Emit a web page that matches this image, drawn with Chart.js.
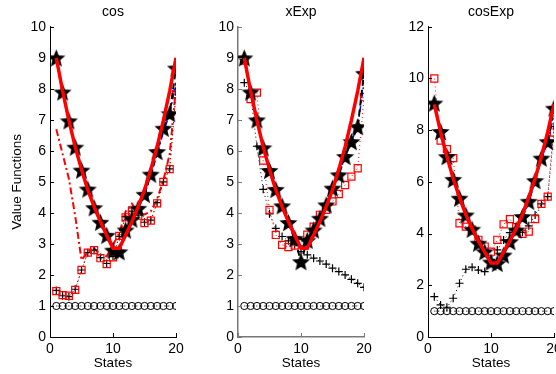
<!DOCTYPE html>
<html>
<head>
<meta charset="utf-8">
<script src="https://cdn.jsdelivr.net/npm/chart.js@4.4.0/dist/chart.umd.min.js"></script>
<style>
  html, body { margin: 0; padding: 0; background: #fff; overflow: hidden; }
  body { width: 556px; height: 374px; position: relative; }
  canvas { position: absolute; top: 0; }
</style>
</head>
<body>
<canvas id="c1" width="190" height="374" style="left:0px"></canvas>
<canvas id="c2" width="190" height="374" style="left:188px"></canvas>
<canvas id="c3" width="190" height="374" style="left:378px"></canvas>
<script>
// --- data ---
const states = [1, 2, 3, 4, 5, 6, 7, 8, 9, 10, 11, 12, 13, 14, 15, 16, 17, 18, 19, 20];
const trueValue = [9.0, 7.93, 6.98, 6.13, 5.4, 4.74, 4.2, 3.72, 3.28, 2.86, 2.86, 3.28, 3.72, 4.2, 4.74, 5.4, 6.13, 6.98, 7.93, 9.0];
const baseline = [1, 1, 1, 1, 1, 1, 1, 1, 1, 1, 1, 1, 1, 1, 1, 1, 1, 1, 1, 1];

// cos
const cosStars = [9.0, 7.9, 6.97, 6.12, 5.38, 4.77, 4.17, 3.7, 3.28, 2.8, 2.75, 3.45, 3.8, 4.15, 4.6, 5.25, 5.98, 6.73, 7.2, 8.67];
const cosBlue = [9.0, 7.9, 6.97, 6.1, 5.38, 4.77, 4.17, 3.7, 3.25, 2.85, 2.9, 3.3, 3.75, 4.2, 4.6, 5.2, 5.9, 6.6, 7.2, 8.2];
const cosSquares = [1.48, 1.35, 1.33, 1.52, 2.16, 2.72, 2.8, 2.54, 2.35, 2.57, 3.26, 3.86, 4.04, 3.91, 3.67, 3.75, 4.31, 5.0, 5.41, 7.83];
const cosPlus = [1.5, 1.33, 1.3, 1.54, 2.16, 2.72, 2.8, 2.56, 2.37, 2.6, 3.24, 3.88, 4.06, 3.93, 3.7, 3.77, 4.33, 5.0, 5.42, 7.9];
const cosDashDot = [6.7, 5.9, 5.1, 3.9, 2.48, 2.75, 2.86, 2.66, 2.6, 2.97, 3.35, 4.05, 4.3, 4.0, 3.95, 4.05, 4.45, 5.06, 5.9, 8.07];

// xExp
const xExpStars = [9.0, 7.9, 7.0, 6.1, 5.37, 4.76, 4.23, 3.69, 3.18, 2.43, 3.12, 3.45, 3.83, 4.26, 4.8, 5.23, 5.82, 6.3, 6.78, 8.5];
const xExpBlue = [9.0, 7.9, 7.0, 6.1, 5.37, 4.76, 4.23, 3.69, 3.1, 2.85, 3.12, 3.45, 3.83, 4.26, 4.8, 5.23, 5.82, 6.3, 6.8, 8.2];
const xExpSquares = [8.91, 7.67, 7.88, 5.69, 4.1, 3.29, 2.97, 2.9, 2.95, 3.05, 3.3, 3.56, 3.94, 4.1, 4.37, 4.61, 4.9, 5.17, 5.44, 7.73];
const xExpPlus = [8.2, 7.85, 6.15, 4.76, 3.97, 3.5, 3.24, 3.1, 2.97, 2.75, 2.65, 2.54, 2.45, 2.35, 2.22, 2.11, 2.0, 1.86, 1.73, 1.6];

// cosExp
const cosExpStars = [9.05, 7.95, 6.98, 6.1, 5.37, 4.72, 4.17, 3.63, 3.3, 2.9, 2.85, 3.17, 3.69, 4.14, 4.66, 5.25, 6.05, 6.92, 7.56, 8.85];
const cosExpBlue = [9.05, 7.95, 6.98, 6.1, 5.37, 4.72, 4.17, 3.63, 3.3, 2.9, 2.85, 3.17, 3.69, 4.14, 4.66, 5.25, 6.05, 6.92, 7.56, 8.6];
const cosExpSquares = [10.0, 7.6, 7.27, 6.92, 4.4, 4.27, 4.15, 3.76, 3.5, 3.3, 3.76, 4.36, 4.56, 4.25, 3.99, 4.08, 4.56, 5.15, 5.43, 7.91];
const cosExpPlus = [1.56, 1.24, 1.15, 1.5, 2.08, 2.62, 2.7, 2.59, 2.53, 3.0, 3.37, 3.75, 4.04, 4.14, 4.05, 4.3, 4.72, 5.15, 5.43, 8.14];

const FONT = 'Liberation Sans, Arial, Helvetica, sans-serif';

function toXY(vals) {
  return vals.map((v, i) => ({ x: states[i], y: v }));
}

// filled pentagram marker
function makeStar(size) {
  const c = document.createElement('canvas');
  c.width = c.height = size;
  const g = c.getContext('2d');
  const r = size / 2, ri = r * 0.44;
  g.beginPath();
  for (let i = 0; i < 10; i++) {
    const a = -Math.PI / 2 + i * Math.PI / 5;
    const rr = i % 2 ? ri : r;
    g.lineTo(r + rr * Math.cos(a), r + 1 + rr * Math.sin(a));
  }
  g.closePath();
  g.fillStyle = '#000';
  g.fill();
  return c;
}
const starImg = makeStar(19);

// MATLAB-like ticks pointing into the plot
const innerTicks = {
  id: 'innerTicks',
  afterDatasetsDraw(chart) {
    const { ctx, chartArea, scales } = chart;
    ctx.save();
    ctx.strokeStyle = chart.options.scales.x.border.color;
    ctx.lineWidth = 1;
    ctx.beginPath();
    scales.x.ticks.forEach(t => {
      const px = Math.round(scales.x.getPixelForValue(t.value)) + 0.5;
      ctx.moveTo(px, chartArea.bottom);
      ctx.lineTo(px, chartArea.bottom - 4);
    });
    scales.y.ticks.forEach(t => {
      const py = Math.round(scales.y.getPixelForValue(t.value)) + 0.5;
      ctx.moveTo(chartArea.left, py);
      ctx.lineTo(chartArea.left + 4, py);
    });
    ctx.stroke();
    ctx.restore();
  }
};

function makePanel(id, title, opts) {
  const datasets = [
    { data: toXY(trueValue), borderColor: '#ff0000', borderWidth: 3.5, pointRadius: 0 },
    { data: toXY(opts.stars), borderColor: '#000', borderWidth: 2, borderDash: [6, 4],
      pointStyle: starImg, pointRadius: 9 },
    { data: toXY(opts.blue), borderColor: '#0000ff', borderWidth: 1.5, borderDash: [6, 3, 2, 3], pointRadius: 0 },
    { data: toXY(opts.squares), borderColor: '#ff0000', borderWidth: 1, borderDash: [1, 3],
      pointStyle: 'rect', pointRadius: 5, pointBorderColor: '#ff0000', pointBorderWidth: 1.2,
      pointBackgroundColor: 'rgba(0,0,0,0)' },
    { data: toXY(opts.plus), borderColor: '#000', borderWidth: 1, borderDash: [1, 3],
      pointStyle: 'cross', pointRadius: 4, pointBorderColor: '#000', pointBorderWidth: 1.2 }
  ];
  if (opts.dashDot) {
    datasets.push({ data: toXY(opts.dashDot), borderColor: '#ff0000', borderWidth: 2,
      borderDash: [7, 3, 2, 3], pointRadius: 0 });
  }
  datasets.push({ data: toXY(baseline), borderColor: '#000', borderWidth: 1, borderDash: [1, 3],
    pointStyle: 'circle', pointRadius: 3.6, pointBorderColor: '#000', pointBorderWidth: 1,
    pointBackgroundColor: 'rgba(0,0,0,0)' });
  datasets.forEach(d => { d.fill = false; d.tension = 0; });

  return new Chart(document.getElementById(id), {
    type: 'line',
    data: { datasets },
    plugins: [innerTicks],
    options: {
      responsive: false,
      animation: false,
      layout: { padding: { left: 0, right: 14, top: 0, bottom: 0 } },
      plugins: {
        legend: { display: false },
        tooltip: { enabled: false },
        title: {
          display: true, text: title, color: '#000', fullSize: false,
          font: { family: FONT, size: 14, weight: 'normal' },
          padding: { top: 4, bottom: 6 }
        }
      },
      scales: {
        x: {
          type: 'linear', min: 0, max: 20,
          afterFit: s => { s.height = 37; },
          grid: { display: false, drawTicks: false },
          border: { display: true, color: opts.axisColor, width: opts.axisWidth },
          ticks: { stepSize: 10, padding: 4, color: '#000', maxRotation: 0,
            font: { family: FONT, size: 14 } },
          title: { display: true, text: 'States', color: '#000',
            font: { family: FONT, size: 13.5 }, padding: { top: 0, bottom: 3 } }
        },
        y: {
          type: 'linear', min: 0, max: opts.yMax,
          afterFit: s => { s.width = 50; },
          grid: { display: false, drawTicks: false },
          border: { display: true, color: opts.axisColor, width: opts.axisWidth },
          ticks: { stepSize: opts.yStep, padding: 4, color: '#000',
            font: { family: FONT, size: 14 } },
          title: { display: !!opts.yTitle, text: opts.yTitle || '', color: '#000',
            font: { family: FONT, size: 13.5 }, padding: { top: 9, bottom: 0 } }
        }
      }
    }
  });
}

makePanel('c1', 'cos', { stars: cosStars, blue: cosBlue, squares: cosSquares, plus: cosPlus,
  dashDot: cosDashDot, yMax: 10, yStep: 1, yTitle: 'Value Functions', axisColor: '#000', axisWidth: 1 });
makePanel('c2', 'xExp', { stars: xExpStars, blue: xExpBlue, squares: xExpSquares, plus: xExpPlus,
  yMax: 10, yStep: 1, axisColor: '#777', axisWidth: 1.5 });
makePanel('c3', 'cosExp', { stars: cosExpStars, blue: cosExpBlue, squares: cosExpSquares, plus: cosExpPlus,
  yMax: 12, yStep: 2, axisColor: '#000', axisWidth: 1 });
</script>
</body>
</html>
